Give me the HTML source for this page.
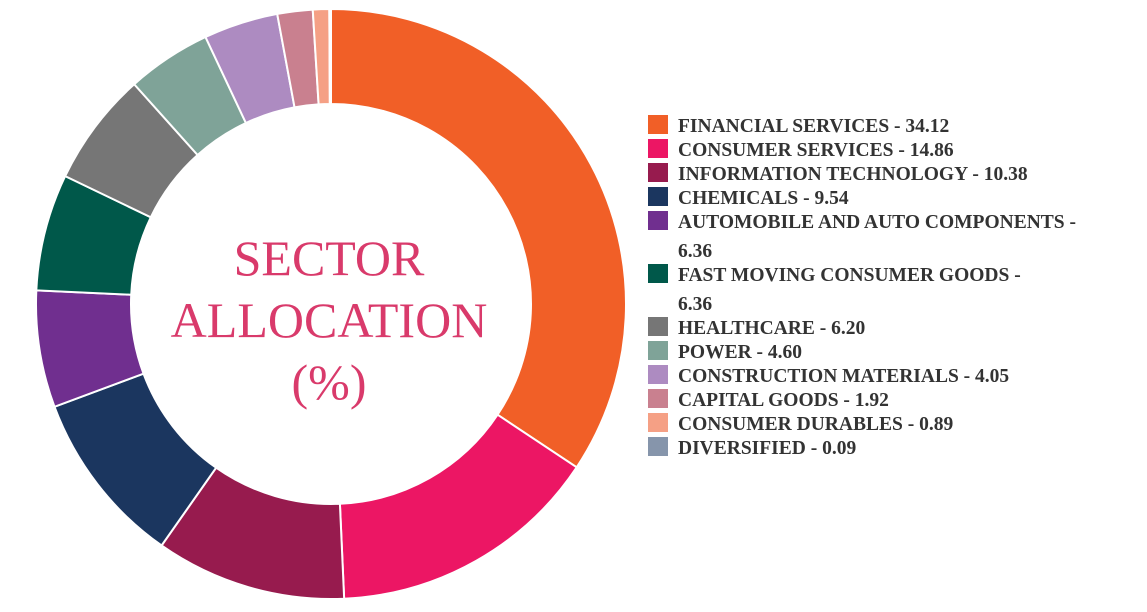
<!DOCTYPE html>
<html><head><meta charset="utf-8"><style>
body{margin:0;background:#fff;width:1147px;height:612px;overflow:hidden}
svg{display:block}
text{font-family:"Liberation Serif",serif}
</style></head><body>
<svg id="chart" width="1147" height="612" viewBox="0 0 1147 612">
<g id="slices"></g>
<g fill="#d93a6b" font-size="50" text-anchor="middle">
<text x="329" y="275">SECTOR</text>
<text x="329" y="337">ALLOCATION</text>
<text x="329" y="399">(%)</text>
</g>
<g id="legend"></g>
</svg>
<script>
const categories=["FINANCIAL SERVICES","CONSUMER SERVICES","INFORMATION TECHNOLOGY","CHEMICALS","AUTOMOBILE AND AUTO COMPONENTS","FAST MOVING CONSUMER GOODS","HEALTHCARE","POWER","CONSTRUCTION MATERIALS","CAPITAL GOODS","CONSUMER DURABLES","DIVERSIFIED"];
const values=[34.12,14.86,10.38,9.54,6.36,6.36,6.20,4.60,4.05,1.92,0.89,0.09];
const labels=["34.12","14.86","10.38","9.54","6.36","6.36","6.20","4.60","4.05","1.92","0.89","0.09"];
const colors=["#f15f27","#ec1664","#971b4e","#1b365f","#702f8f","#00584a","#767676","#7fa398","#ad8bc1","#c9808f","#f5a085","#8695ab"];
const NS="http://www.w3.org/2000/svg";
const cx=331,cy=304,R=295,r=200;
const total=values.reduce((a,b)=>a+b,0);
let a0=0;
const g=document.getElementById('slices');
function pt(rad,a){return [cx+rad*Math.sin(a),cy-rad*Math.cos(a)];}
values.forEach((v,i)=>{
  const a1=a0+v/total*2*Math.PI;
  const large=(a1-a0)>Math.PI?1:0;
  const p1=pt(R,a0),p2=pt(R,a1),p3=pt(r,a1),p4=pt(r,a0);
  const p=document.createElementNS(NS,'path');
  p.setAttribute('d',`M${p1}A${R},${R} 0 ${large} 1 ${p2}L${p3}A${r},${r} 0 ${large} 0 ${p4}Z`);
  p.setAttribute('fill',colors[i]);
  p.setAttribute('stroke','#fff');
  p.setAttribute('stroke-width','2');
  
  
  g.appendChild(p);
  a0=a1;
});
const lg=document.getElementById('legend');
let y=115;
categories.forEach((c,i)=>{
  const e=document.createElementNS(NS,'g');
  
  
  const s=document.createElementNS(NS,'rect');
  s.setAttribute('x',648);s.setAttribute('y',y);s.setAttribute('width',20);s.setAttribute('height',19);
  s.setAttribute('fill',colors[i]);
  e.appendChild(s);
  const wrap=c.length>25;
  const t=document.createElementNS(NS,'text');
  t.setAttribute('x',678);t.setAttribute('y',y+17);
  t.setAttribute('font-size','19.5');t.setAttribute('font-weight','bold');t.setAttribute('fill','#333');
  t.textContent=wrap?c+' -':c+' - '+labels[i];
  e.appendChild(t);
  if(wrap){
    const t2=document.createElementNS(NS,'text');
    t2.setAttribute('x',678);t2.setAttribute('y',y+46);
    t2.setAttribute('font-size','19.5');t2.setAttribute('font-weight','bold');t2.setAttribute('fill','#333');
    t2.textContent=labels[i];
    e.appendChild(t2);
    y+=53;
  } else y+=24;
  lg.appendChild(e);
});
</script>
</body></html>
